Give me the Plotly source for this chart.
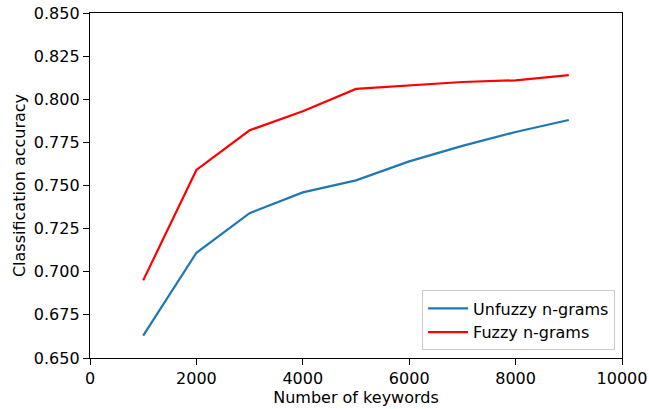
import plotly.graph_objects as go

# Number of keywords used by the classifier
keywords = [1000, 2000, 3000, 4000, 5000, 6000, 7000, 8000, 9000]

# Classification accuracy per feature type
unfuzzy_acc = [0.663, 0.711, 0.734, 0.746, 0.753, 0.764, 0.773, 0.781, 0.788]
fuzzy_acc = [0.695, 0.759, 0.782, 0.793, 0.806, 0.808, 0.810, 0.811, 0.814]

series_names = ["Unfuzzy n-grams", "Fuzzy n-grams"]

x_ticks = [0, 2000, 4000, 6000, 8000, 10000]
y_ticks = [0.650, 0.675, 0.700, 0.725, 0.750, 0.775, 0.800, 0.825, 0.850]

font_family = "DejaVu Sans"
font_size = 16

fig = go.Figure()
fig.add_trace(go.Scatter(
    x=keywords, y=unfuzzy_acc, mode="lines", name=series_names[0],
    line=dict(color="#1f77b4", width=2.2),
))
fig.add_trace(go.Scatter(
    x=keywords, y=fuzzy_acc, mode="lines", name=series_names[1],
    line=dict(color="#ff0000", width=2.2),
))

axis_common = dict(
    showline=True, linecolor="black", linewidth=1.3, mirror=True,
    ticks="outside", ticklen=6, tickwidth=1.2, tickcolor="black",
    showgrid=False, zeroline=False, automargin=False,
    tickfont=dict(family=font_family, size=font_size, color="black"),
)

fig.update_xaxes(
    range=[0, 10000], tickvals=x_ticks, ticktext=[str(v) for v in x_ticks],
    title=dict(text="Number of keywords",
               font=dict(family=font_family, size=font_size, color="black"), standoff=2),
    **axis_common,
)
fig.update_yaxes(
    range=[0.65, 0.85], tickvals=y_ticks, ticktext=[f"{v:.3f}" for v in y_ticks],
    title=dict(text="Classification accuracy",
               font=dict(family=font_family, size=font_size, color="black"), standoff=4),
    **axis_common,
)

fig.update_layout(
    width=649, height=409,
    margin=dict(l=90, r=27, t=13, b=51, autoexpand=False),
    paper_bgcolor="white", plot_bgcolor="white",
    font=dict(family=font_family, size=font_size, color="black"),
    showlegend=True,
    legend=dict(
        x=0.987, y=0.022, xanchor="right", yanchor="bottom",
        bgcolor="rgba(255,255,255,0.8)", bordercolor="#cccccc", borderwidth=1,
        font=dict(family=font_family, size=font_size, color="black"),
        itemwidth=40,
    ),
)

fig.write_html("out.html")
